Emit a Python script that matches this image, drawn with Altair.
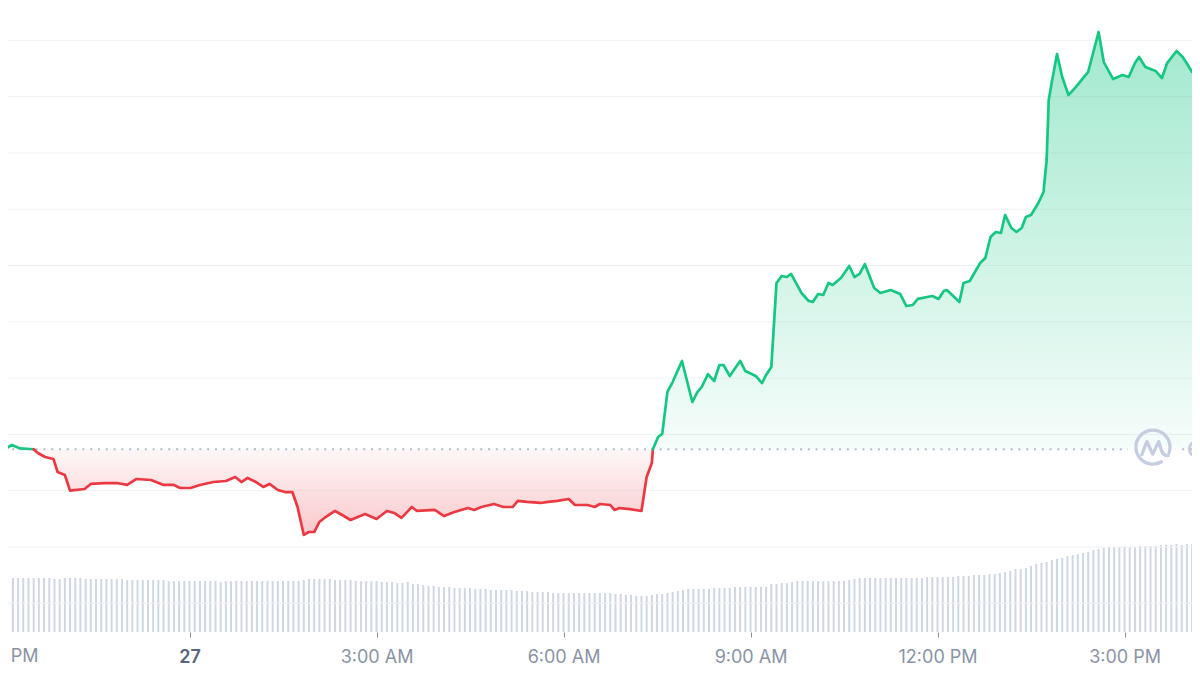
import altair as alt
import pandas as pd
from datetime import datetime, timedelta

# ---------------- data ----------------
YEAR, MONTH = 2023, 10
BASE = 20.868  # open price of the period (dotted reference line)

PRICE_TIMES = [
    "21:02", "21:09", "21:17", "21:30", "21:34", "21:41", "21:49", "21:53",
    "22:00", "22:05", "22:19", "22:25", "22:38", "22:50",
    "23:00", "23:09", "23:23", "23:35", "23:45", "23:51",
    "00:01", "00:10", "00:23", "00:35", "00:44", "00:50", "00:56",
    "01:04", "01:11", "01:17", "01:25", "01:32", "01:39", "01:44", "01:50", "01:55",
    "02:00", "02:05", "02:11", "02:20", "02:27", "02:35", "02:49",
    "03:00", "03:10", "03:17", "03:24", "03:34", "03:39", "03:56",
    "04:05", "04:15", "04:28", "04:34", "04:41", "04:53",
    "05:02", "05:11", "05:16", "05:25", "05:38", "05:45", "05:54",
    "06:05", "06:11", "06:23", "06:30", "06:35", "06:45", "06:49", "06:54",
    "07:04", "07:15", "07:20", "07:25", "07:26", "07:31", "07:35", "07:40", "07:45", "07:54",
    "08:04", "08:09", "08:13", "08:19", "08:25", "08:30", "08:34", "08:40", "08:50", "08:55",
    "09:05", "09:11", "09:15", "09:20", "09:25", "09:30", "09:35", "09:39", "09:49", "09:56",
    "10:00", "10:05", "10:10", "10:15", "10:19", "10:27", "10:35", "10:40", "10:45", "10:50", "10:59",
    "11:05", "11:15", "11:24", "11:30", "11:36", "11:41", "11:50", "11:55",
    "12:01", "12:06", "12:09", "12:21", "12:25", "12:31", "12:41", "12:46", "12:51", "12:56",
    "13:01", "13:05", "13:11", "13:16", "13:21", "13:25", "13:30", "13:37", "13:42", "13:45",
    "13:47", "13:50", "13:55",
    "14:00", "14:06", "14:13", "14:25", "14:35", "14:40", "14:49", "14:58",
    "15:04", "15:10", "15:14", "15:20", "15:30", "15:36", "15:41", "15:50", "15:56",
    "16:05", "16:11",
]

PRICES = [
    20.870, 20.906, 20.875, 20.868, 20.835, 20.799, 20.782, 20.666,
    20.639, 20.500, 20.515, 20.560, 20.568, 20.568,
    20.551, 20.604, 20.595, 20.551, 20.551, 20.524,
    20.524, 20.551, 20.577, 20.586, 20.622, 20.577, 20.613,
    20.577, 20.533, 20.560, 20.506, 20.488, 20.488, 20.355, 20.107, 20.133,
    20.133, 20.222, 20.266, 20.320, 20.284, 20.240, 20.293,
    20.249, 20.320, 20.302, 20.258, 20.355, 20.320, 20.329,
    20.275, 20.311, 20.346, 20.329, 20.355, 20.382,
    20.355, 20.355, 20.409, 20.400, 20.391, 20.400, 20.409,
    20.426, 20.373, 20.373, 20.355, 20.382, 20.373, 20.329, 20.346,
    20.337, 20.320, 20.622, 20.746, 20.868, 20.977, 21.004, 21.377, 21.465, 21.652,
    21.288, 21.377, 21.421, 21.536, 21.474, 21.616, 21.616, 21.519, 21.652, 21.563,
    21.519, 21.456, 21.528, 21.599, 22.345, 22.407, 22.398, 22.425, 22.256, 22.185,
    22.176, 22.247, 22.238, 22.345, 22.327, 22.389, 22.496, 22.398, 22.425, 22.513, 22.300,
    22.256, 22.282, 22.247, 22.140, 22.149, 22.203, 22.220, 22.229,
    22.203, 22.274, 22.282, 22.176, 22.345, 22.362, 22.522, 22.567, 22.753, 22.798,
    22.789, 22.949, 22.833, 22.798, 22.833, 22.931, 22.949, 23.055, 23.153, 23.437,
    23.970, 24.130, 24.378,
    24.174, 24.014, 24.085, 24.219, 24.574, 24.307, 24.156, 24.192,
    24.174, 24.298, 24.352, 24.263, 24.227, 24.165, 24.298, 24.405, 24.352,
    24.219, 24.201,
]

# 5-minute volume bars, starting 21:10 on the 26th
VOLUMES = [
    5.4, 5.4, 5.4, 5.4, 5.4, 5.4, 5.4, 5.4, 5.3, 5.3,
    5.4, 5.4, 5.4, 5.4, 5.3, 5.3, 5.3, 5.3, 5.3, 5.3, 5.3, 5.3,
    5.2, 5.2, 5.2, 5.2, 5.2, 5.2, 5.2, 5.2, 5.1, 5.1, 5.1, 5.1,
    5.1, 5.1, 5.1, 5.1, 5.1, 5.1, 5.0, 5.1, 5.1, 5.1, 5.1, 5.1,
    5.1, 5.1, 5.1, 5.1, 5.1, 5.1, 5.1, 5.1, 5.1, 5.1, 5.2, 5.3,
    5.3, 5.3, 5.3, 5.3, 5.2, 5.2, 5.2, 5.2, 5.1, 5.1, 5.1, 5.1,
    5.1, 5.0, 5.0, 5.0, 4.9, 4.9, 5.0, 4.8, 4.8, 4.7, 4.6, 4.6,
    4.5, 4.5, 4.5, 4.4, 4.4, 4.4, 4.4, 4.3, 4.3, 4.3, 4.2, 4.2,
    4.2, 4.2, 4.2, 4.1, 4.1, 4.1, 4.0, 4.0, 4.0, 4.0, 3.9, 3.9,
    3.9, 3.9, 3.9, 3.9, 3.9, 3.9, 3.9, 3.9, 3.9, 3.9, 3.8, 3.8,
    3.7, 3.7, 3.6, 3.6, 3.6, 3.7, 3.8, 3.8, 3.9, 4.0, 4.1, 4.2,
    4.3, 4.3, 4.3, 4.3, 4.3, 4.4, 4.4, 4.4, 4.4, 4.5, 4.5, 4.5,
    4.5, 4.5, 4.5, 4.5, 4.8, 4.8, 4.9, 4.9, 5.0, 5.1, 5.1, 5.1,
    5.1, 5.1, 5.1, 5.1, 5.1, 5.1, 5.1, 5.2, 5.3, 5.4, 5.4, 5.4,
    5.4, 5.4, 5.4, 5.4, 5.4, 5.4, 5.4, 5.4, 5.4, 5.4, 5.5, 5.5,
    5.5, 5.5, 5.5, 5.5, 5.6, 5.6, 5.6, 5.7, 5.7, 5.7, 5.8, 5.8,
    5.9, 6.0, 6.1, 6.3, 6.3, 6.4, 6.6, 6.8, 6.9, 7.0, 7.2, 7.3,
    7.4, 7.6, 7.7, 7.8, 7.9, 8.0, 8.2, 8.3, 8.4, 8.5, 8.5, 8.5,
    8.5, 8.5, 8.5, 8.6, 8.6, 8.6, 8.6, 8.7, 8.7, 8.7, 8.8, 8.7,
    8.8, 8.8,
]

GRID_VALUES = [19.5, 20.0, 20.5, 21.0, 21.5, 22.0, 22.5, 23.0, 23.5, 24.0, 24.5]
TICK_TIMES = [(27, 0), (27, 3), (27, 6), (27, 9), (27, 12), (27, 15)]
EDGE_LABEL_TIME = "21:00"     # tick that sits just off the left edge
EDGE_LABEL_TEXT = "9:00 PM"

GREEN = "#16c784"
RED = "#ea3943"
BAR_COLOR = "#cfd6e4"
GRID_COLOR = "#eff2f5"
MARK_COLOR = "#c5cde0"
LABEL_COLOR = "#8a93a6"
LOGO_PATH = ("M0.50,0.87 A1,1 0 1,1 0.94,0.34 "
             "M-0.66,0.45 L-0.36,-0.32 L-0.02,0.42 L0.34,-0.32 L0.5,0.2 Q0.62,0.55 0.9,0.5")


# ---------------- tables ----------------
def to_iso(hhmm):
    hh, mm = map(int, hhmm.split(":"))
    day = 26 if hh >= 20 else 27
    return f"{YEAR}-{MONTH:02d}-{day:02d}T{hh:02d}:{mm:02d}:00Z"


price_df = pd.DataFrame({"time": [to_iso(t) for t in PRICE_TIMES], "price": PRICES})

segments = [[]]
for t, p in zip(price_df["time"], price_df["price"]):
    segments[-1].append((t, p))
    if p == BASE and len(segments[-1]) > 1:
        segments.append([(t, p)])
rows = []
for i, seg in enumerate(segments):
    side = "up" if any(p > BASE for _, p in seg) else "down"
    for t, p in seg:
        rows.append({"time": t, "price": p, "seg": i, "side": side})
seg_df = pd.DataFrame(rows)

start = datetime(YEAR, MONTH, 26, 21, 10)
vol_df = pd.DataFrame({
    "time": [(start + timedelta(minutes=5 * i)).strftime("%Y-%m-%dT%H:%M:00Z") for i in range(len(VOLUMES))],
    "volume": VOLUMES,
})

edge_df = pd.DataFrame({"time": [to_iso(EDGE_LABEL_TIME)], "label": [EDGE_LABEL_TEXT]})

# ---------------- scales / axes ----------------
PLOT_W, PLOT_H = 1184, 624
x_scale = alt.Scale(
    type="utc",
    domain=[
        alt.DateTime(year=YEAR, month=MONTH, date=26, hours=21, minutes=10, seconds=6, utc=True),
        alt.DateTime(year=YEAR, month=MONTH, date=27, hours=16, minutes=0, seconds=6, utc=True),
    ],
)
day_test = "utchours(datum.value) == 0"
x_axis = alt.Axis(
    values=[alt.DateTime(year=YEAR, month=MONTH, date=d, hours=h, utc=True) for d, h in TICK_TIMES],
    labelExpr="utchours(datum.value) == 0 ? utcFormat(datum.value, '%-d') : utcFormat(datum.value, '%-I:%M %p')",
    labelFont="Inter",
    labelFontSize=18,
    labelColor={"condition": {"test": day_test, "value": "#58667e"}, "value": LABEL_COLOR},
    labelFontWeight={"condition": {"test": day_test, "value": 600}, "value": 400},
    labelPadding=11,
    labelFlush=False,
    labelOverlap=False,
    ticks=True,
    tickSize=5,
    tickColor=LABEL_COLOR,
    tickWidth=1,
    domain=False,
    grid=False,
    title=None,
)
X = alt.X("time:T", scale=x_scale, axis=x_axis)
y_scale = alt.Scale(domain=[19.245, 24.787], nice=False, zero=False)

# ---------------- layers ----------------
bars = alt.Chart(vol_df).mark_bar(size=2, color=BAR_COLOR, opacity=1).encode(
    x=X,
    y=alt.Y("volume:Q", scale=alt.Scale(domain=[0, 62.4], nice=False), axis=None),
)

grid = alt.Chart(pd.DataFrame({"g": GRID_VALUES})).mark_rule(color=GRID_COLOR, strokeWidth=1).encode(
    y=alt.Y("g:Q", scale=y_scale, axis=None)
)

green_grad = alt.Gradient(
    gradient="linear",
    stops=[alt.GradientStop(color="rgba(22,199,132,0.40)", offset=0),
           alt.GradientStop(color="rgba(22,199,132,0.04)", offset=1)],
    x1=1, x2=1, y1=0, y2=1,
)
red_grad = alt.Gradient(
    gradient="linear",
    stops=[alt.GradientStop(color="rgba(234,57,67,0.04)", offset=0),
           alt.GradientStop(color="rgba(234,57,67,0.28)", offset=1)],
    x1=1, x2=1, y1=0, y2=1,
)

area_up = alt.Chart(price_df).transform_calculate(
    top=f"max(datum.price, {BASE})", base=f"{BASE}"
).mark_area(color=green_grad, opacity=1, interpolate="linear", clip=True).encode(
    x=X, y=alt.Y("top:Q", scale=y_scale, axis=None), y2="base:Q"
)

area_down = alt.Chart(price_df).transform_calculate(
    bot=f"min(datum.price, {BASE})", base=f"{BASE}"
).mark_area(color=red_grad, opacity=1, interpolate="linear", clip=True).encode(
    x=X, y=alt.Y("bot:Q", scale=y_scale, axis=None), y2="base:Q"
)

base_rule = alt.Chart(pd.DataFrame({"b": [BASE]})).mark_rule(
    color="#b3bccc", strokeWidth=2, strokeDash=[2, 5.8]
).encode(y=alt.Y("b:Q", scale=y_scale, axis=None))

gap = alt.Chart(pd.DataFrame({"k": [0]})).mark_rule(color="white", strokeWidth=5).encode(
    x=alt.value(1120), x2=alt.value(1170), y=alt.value(441)
)

logo = alt.Chart(pd.DataFrame({"k": [0]})).mark_point(
    shape=LOGO_PATH, size=1156, filled=False, color=MARK_COLOR, strokeWidth=3.3,
    opacity=1, strokeCap="round", strokeJoin="round",
).encode(x=alt.value(1145), y=alt.value(439))

brand = alt.Chart(pd.DataFrame({"k": [0]})).mark_text(
    text="CoinMarketCap", align="left", baseline="middle", font="Inter",
    fontSize=21, fontWeight=600, color=MARK_COLOR,
).encode(x=alt.value(1179), y=alt.value(443))

edge_label = alt.Chart(edge_df).mark_text(
    align="center", baseline="top", font="Inter", fontSize=18, color=LABEL_COLOR,
).encode(x=X, y=alt.value(PLOT_H + 5 + 11), text="label:N")

line = alt.Chart(seg_df).mark_line(strokeWidth=2.7, strokeJoin="round", strokeCap="round", clip=True).encode(
    x=X,
    y=alt.Y("price:Q", scale=y_scale, axis=None),
    color=alt.Color("side:N", scale=alt.Scale(domain=["up", "down"], range=[GREEN, RED]), legend=None),
    detail="seg:N",
)

chart = alt.layer(
    bars, grid, area_up, area_down, base_rule, gap, logo, brand, edge_label, line
).resolve_scale(y="independent").properties(
    width=PLOT_W,
    height=PLOT_H,
    autosize=alt.AutoSizeParams(type="none"),
    padding={"left": 0, "top": 0, "right": 0, "bottom": 35},
).configure_view(strokeWidth=0)

chart.save("out.html", embed_options={"renderer": "svg", "actions": False})
